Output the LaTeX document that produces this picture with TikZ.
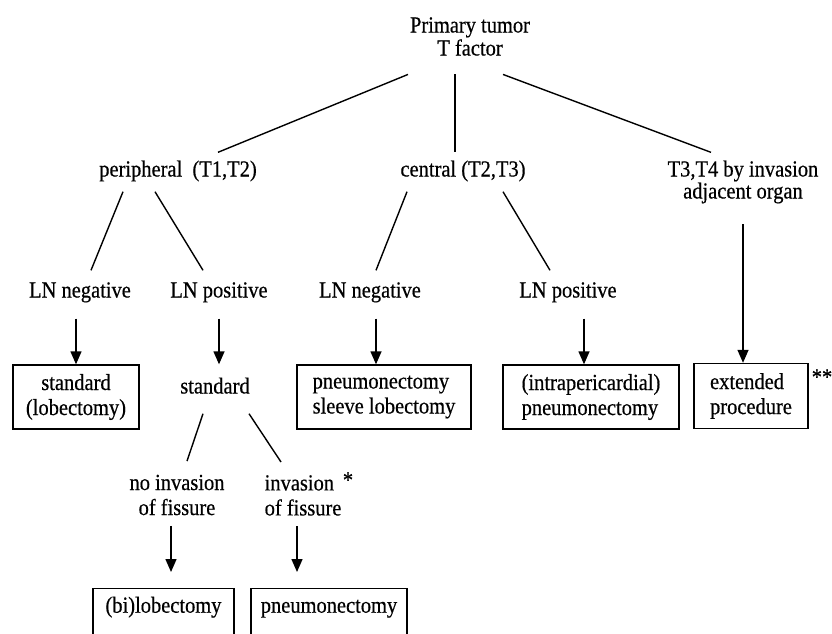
\documentclass[tikz,border=0pt]{standalone}
\usepackage{fontspec}
\setmainfont[FakeStretch=0.89, FakeBold=0.5]{Liberation Serif}
\usetikzlibrary{arrows.meta}

\begin{document}
\begin{tikzpicture}[x=1pt, y=-1pt, line width=1.4pt,
            > = {Triangle[length=13pt,width=11pt]},
  label/.style = {inner sep=0pt, font=\fontsize{23}{23}\selectfont,
                  text height=15pt, text depth=4pt},
 twoline/.style = {inner sep=0pt, font=\fontsize{23}{23}\selectfont},
    box/.style = {draw, inner sep=3pt,
                  font=\fontsize{23}{25}\selectfont, minimum height=64pt},
    arr/.style = {->}
                        ]
\useasboundingbox (0,0) rectangle (832,633);
\clip (0,0) rectangle (832,633);
% levels of the tree
\node[twoline, align=center] (top) at (470,36.5) {Primary tumor\\T factor};
\node[label] (per) at (178,171) {peripheral~~(T1,T2)};
\node[label] (cen) at (463,171) {central (T2,T3)};
\node[twoline, align=center, font=\fontsize{23}{22}\selectfont] (adj) at (743,182) {T3,T4 by invasion\\adjacent organ};
\node[label] (lnA) at (80,292)  {LN negative};
\node[label] (lnB) at (219,292) {LN positive};
\node[label] (lnC) at (370,292) {LN negative};
\node[label] (lnD) at (568,292) {LN positive};
% procedures
\node[box, align=center, minimum width=126pt] (box1) at (76,397) {standard\\(lobectomy)};
\node[label] (std) at (215,388) {standard};
\node[box, align=left, minimum width=174pt] (box3) at (384,397) {pneumonectomy\\sleeve lobectomy};
\node[box, align=left, minimum width=176pt] (box4) at (591,397) {(intrapericardial)\\pneumonectomy};
\node[box, align=left, minimum width=114pt, minimum height=65pt] (box5) at (751,396) {extended\\procedure};
\node[inner sep=0pt, font=\fontsize{23}{23}\selectfont] (dstar) at (822,377) {**};
% fissure
\node[twoline, align=center, font=\fontsize{23}{25}\selectfont] (noinv) at (177,495) {no invasion\\of fissure};
\node[twoline, align=left, anchor=north west, font=\fontsize{23}{25}\selectfont] (inv) at (264,474.5) {invasion\\of fissure};
\node[inner sep=0pt, font=\fontsize{23}{23}\selectfont] (star) at (348,480) {*};
\node[box, anchor=north, minimum width=141pt, minimum height=0pt, inner ysep=8pt,
      text height=16pt, text depth=40pt] (box6) at (163.5,588) {(bi)lobectomy};
\node[box, anchor=north, minimum width=156pt, minimum height=0pt, inner ysep=8pt,
      text height=16pt, text depth=40pt] (box7) at (329,588) {pneumonectomy};
% branches
\draw ([shift={(-62,18)}]top.south) -- ([shift={(40,-8.5)}]per.north);
\draw ([shift={(-15,18)}]top.south) -- ([shift={(-8,-8.5)}]cen.north);
\draw ([shift={(33,18)}]top.south) -- ([shift={(-32,-7.5)}]adj.north);
\draw ([shift={(-55,10.5)}]per.south) -- ([shift={(11,-11.5)}]lnA.north);
\draw ([shift={(-23,10.5)}]per.south) -- ([shift={(-16,-11.5)}]lnB.north);
\draw ([shift={(-56,10.5)}]cen.south) -- ([shift={(6,-11.5)}]lnC.north);
\draw ([shift={(40,10.5)}]cen.south) -- ([shift={(-18,-11.5)}]lnD.north);
\draw ([shift={(-12,15.5)}]std.south) -- ([shift={(10,-13)}]noinv.north);
\draw ([shift={(34,15.5)}]std.south) -- ([shift={(17,-12.5)}]inv.north west);
% arrows
\draw[arr, shorten <=16.5pt] (box1.north |- lnA.south) -- (box1.north);
\draw[arr, shorten <=16.5pt, shorten >=13.5pt] (lnB.south) -- (lnB.south |- std.north);
\draw[arr, shorten <=16.5pt] ([xshift=-8pt]box3.north |- lnC.south) -- ([xshift=-8pt]box3.north);
\draw[arr, shorten <=16.5pt] ([xshift=-7pt]box4.north |- lnD.south) -- ([xshift=-7pt]box4.north);
\draw[arr, shorten <=20pt] ([xshift=-8pt]box5.north |- adj.south) -- ([xshift=-8pt]box5.north);
\draw[arr, shorten <=10pt, shorten >=16pt] ([xshift=7.5pt]box6.north |- noinv.south) -- ([xshift=7.5pt]box6.north);
\draw[arr, shorten <=10pt, shorten >=16pt] ([xshift=-32pt]box7.north |- inv.south) -- ([xshift=-32pt]box7.north);
\end{tikzpicture}
\end{document}
